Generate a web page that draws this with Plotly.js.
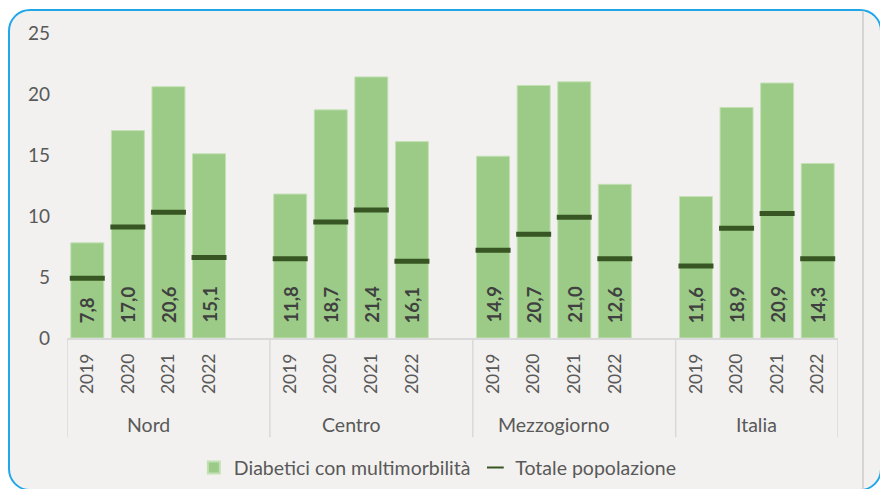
<!DOCTYPE html>
<html><head><meta charset="utf-8">
<script src="https://cdn.plot.ly/plotly-3.0.1.min.js"></script>
<style>
html,body{margin:0;padding:0;background:#fff;width:880px;height:489px;overflow:hidden;}
#frame{position:absolute;left:8px;top:9px;width:870px;height:478px;border:2px solid #1FA7EA;border-radius:22px;background:#F2F1EF;}
#vline{position:absolute;left:862px;top:11px;width:2px;height:478px;background:#D6D5D3;}
#chart{position:absolute;left:0;top:0;width:880px;height:489px;}
</style></head><body>
<div id="frame"></div><div id="vline"></div><div id="chart"></div>
<script>
const regions = ['Nord', 'Centro', 'Mezzogiorno', 'Italia'];
const years = ['2019', '2020', '2021', '2022'];
const diabetici = [7.8, 17.0, 20.6, 15.1, 11.8, 18.7, 21.4, 16.1, 14.9, 20.7, 21.0, 12.6, 11.6, 18.9, 20.9, 14.3];
const totale = [4.9, 9.1, 10.3, 6.6, 6.5, 9.5, 10.5, 6.3, 7.2, 8.5, 9.9, 6.5, 5.9, 9.0, 10.2, 6.5];
const yTicks = [0, 5, 10, 15, 20, 25];

const FONT = 'Lato, "Open Sans", sans-serif';
const GREY = '#595959';

// positions: each region occupies 5 slots (4 years + 1 empty slot)
const xs = [], yearLabels = [];
regions.forEach((r, g) => years.forEach((y, i) => { xs.push(g * 5 + i); yearLabels.push(y); }));
const nSlots = regions.length * 5 - 1;

const traces = [
  {
    type: 'bar', name: 'Diabetici con multimorbilità',
    x: xs, y: diabetici,
    marker: {color: '#9BCB87', line: {color: '#C4E1B5', width: 1}},
    hoverinfo: 'y'
  },
  {
    type: 'scatter', mode: 'markers', name: 'Totale popolazione',
    x: xs, y: totale,
    marker: {symbol: 'line-ew', size: 25, color: '#375623', line: {color: '#375623', width: 5}},
    hoverinfo: 'y'
  }
];

const annotations = [];
xs.forEach((x, k) => {
  annotations.push({
    x: x, y: 0, xref: 'x', yref: 'y', showarrow: false,
    text: diabetici[k].toFixed(1).replace('.', ','),
    textangle: -90, xanchor: 'center', yanchor: 'bottom', yshift: 13,
    font: {family: FONT, size: 18.5, color: '#404040', weight: 'bold'}
  });
});
regions.forEach((r, g) => {
  annotations.push({
    x: g * 5 + 1.5, y: -0.285, xref: 'x', yref: 'paper', showarrow: false,
    text: r, xanchor: 'center', yanchor: 'middle',
    font: {family: FONT, size: 19.5, color: GREY}
  });
});

const shapes = [];
const bounds = [-0.5];
regions.forEach((r, g) => bounds.push(g === regions.length - 1 ? nSlots - 0.5 : g * 5 + 4.5));
bounds.forEach(b => shapes.push({
  type: 'line', xref: 'x', yref: 'paper', x0: b, x1: b, y0: 0, y1: -0.325,
  line: {color: '#D9D9D9', width: 1.5}
}));

const layout = {
  width: 880, height: 489,
  margin: {l: 67, r: 42, t: 33, b: 151, autoexpand: false},
  paper_bgcolor: 'rgba(0,0,0,0)', plot_bgcolor: 'rgba(0,0,0,0)',
  font: {family: FONT, color: GREY},
  bargap: 0.187,
  showlegend: true,
  legend: {orientation: 'h', x: 0.481, xanchor: 'center', y: -0.426, yanchor: 'middle',
           font: {family: FONT, size: 19.5, color: GREY}, itemsizing: 'constant', bgcolor: 'rgba(0,0,0,0)'},
  xaxis: {
    range: [-0.5, nSlots - 0.5], tickmode: 'array', tickvals: xs, ticktext: yearLabels,
    tickangle: -90, ticks: '', ticklabelstandoff: 7, showgrid: false, zeroline: false,
    showline: true, linecolor: '#D9D9D9', linewidth: 1.5,
    tickfont: {family: FONT, size: 17.5, color: GREY}, fixedrange: true
  },
  yaxis: {
    range: [0, 25], tickmode: 'array', tickvals: yTicks, ticks: '', showgrid: false, zeroline: false,
    showline: false, ticklabelstandoff: 16,
    tickfont: {family: FONT, size: 19, color: GREY}, fixedrange: true
  },
  annotations: annotations,
  shapes: shapes
};

Plotly.newPlot('chart', traces, layout, {displayModeBar: false, staticPlot: true});
</script>
</body></html>
